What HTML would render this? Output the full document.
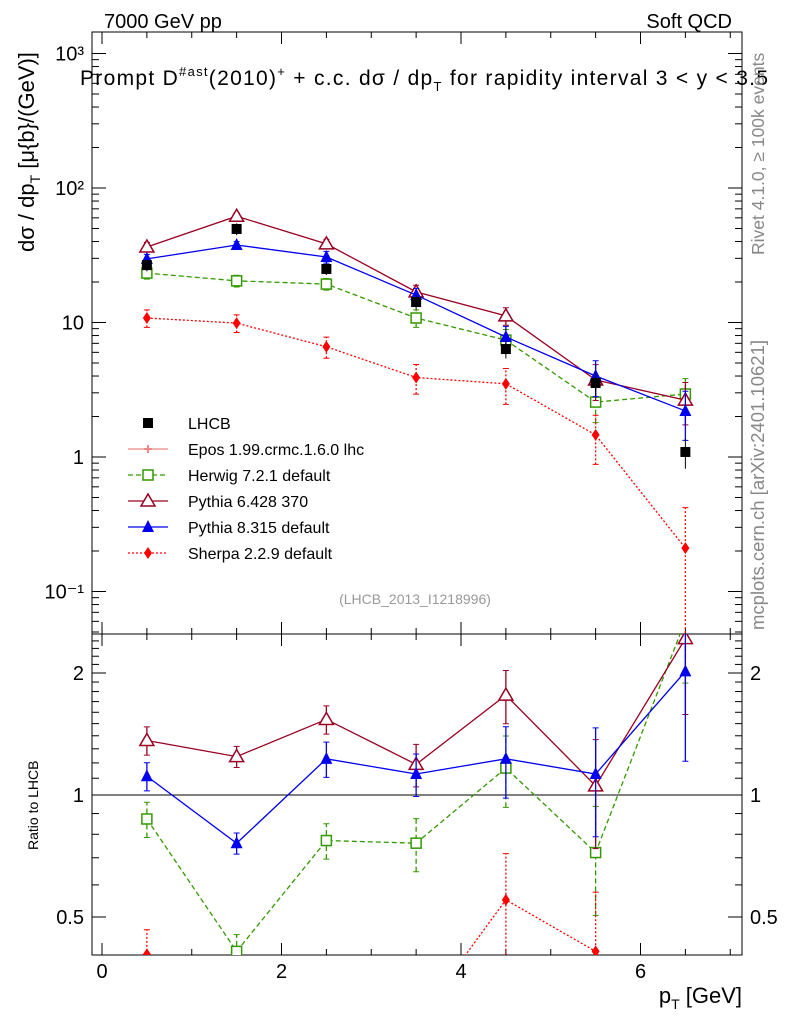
<!DOCTYPE html>
<html><head><meta charset="utf-8">
<style>
html,body{margin:0;padding:0;background:#fff;overflow:hidden;width:786px;height:1024px;}
svg{display:block;font-family:"Liberation Sans",sans-serif;}
</style></head>
<body>
<svg id="c" width="786" height="1024" viewBox="0 0 786 1024" xmlns="http://www.w3.org/2000/svg">
<text x="104" y="28" font-size="20">7000 GeV pp</text>
<text x="732" y="28" font-size="20" text-anchor="end">Soft QCD</text>
<text x="80" y="85" font-size="21" textLength="688" lengthAdjust="spacing">Prompt D<tspan font-size="13" dy="-9">#ast</tspan><tspan dy="9">(2010)</tspan><tspan font-size="13" dy="-9">+</tspan><tspan dy="9"> + c.c.  dσ / dp</tspan><tspan font-size="13" dy="6">T</tspan><tspan dy="-6"> for rapidity interval 3 &lt; y &lt; 3.5</tspan></text>
<text transform="translate(34,252) rotate(-90)" font-size="22">dσ / dp<tspan font-size="14" dy="6">T</tspan><tspan dy="-6"> [μ{b}/(GeV)]</tspan></text>
<text transform="translate(38,850) rotate(-90)" font-size="14">Ratio to LHCB</text>
<text transform="translate(764,255) rotate(-90)" font-size="17.5" fill="#888">Rivet 4.1.0, ≥ 100k events</text>
<text transform="translate(764,630) rotate(-90)" font-size="18.5" fill="#888">mcplots.cern.ch [arXiv:2401.10621]</text>
<text x="415" y="604" font-size="14" fill="#999" text-anchor="middle">(LHCB_2013_I1218996)</text>
<text x="742" y="1003" font-size="22" text-anchor="end">p<tspan font-size="14" dy="6">T</tspan><tspan dy="-6"> [GeV]</tspan></text>
<g id="g"></g>
</svg>
<script>
const xs=[0.5,1.5,2.5,3.5,4.5,5.5,6.5];
const lhcb=[26.7,49.6,25,14.2,6.35,3.55,1.09];
const lhcbErr=[0.1,0.1,0.1,0.12,0.15,0.2,0.25];
const herwig=[23.3,20.4,19.3,10.8,7.4,2.56,2.94];
const herwigErr=[0.1,0.1,0.1,0.15,0.2,0.3,0.3];
const pythia6=[36.4,61.7,38.4,16.9,11.2,3.74,2.65];
const pythia6Err=[0.08,0.06,0.08,0.12,0.15,0.3,0.35];
const pythia8=[29.7,37.7,30.7,16,7.8,4.0,2.2];
const pythia8Err=[0.08,0.06,0.1,0.12,0.2,0.3,0.4];
const sherpa=[10.8,9.9,6.6,3.9,3.5,1.46,0.21];
const sherpaErr=[0.15,0.15,0.18,0.25,0.3,0.4,1.0];
const xTicks=[0,2,4,6];
const yTicks=[0.1,1,10,100,1000];
const yTickLabels=["10⁻¹","1","10","10²","10³"];
const rTicks=[0.5,1,2];

const NS="http://www.w3.org/2000/svg";
const g=document.getElementById('g');
const L=92,R=742,T=32,M=634,B=955;
const X=v=>102+v*89.75;
const Y=v=>457-Math.log10(v)*134.5;
const RY=v=>795-Math.log2(v)*122;
function el(t,a,p){const e=document.createElementNS(NS,t);for(const k in a)e.setAttribute(k,a[k]);(p||g).appendChild(e);return e;}
const defs=el('defs',{});
const c1=el('clipPath',{id:'cm'},defs);el('rect',{x:L,y:T,width:R-L,height:M-T},c1);
const c2=el('clipPath',{id:'cr'},defs);el('rect',{x:L,y:M,width:R-L,height:B-M},c2);
let f=el('rect',{x:L,y:T,width:R-L,height:M-T,fill:'none',stroke:'#000','stroke-width':1});


f=el('rect',{x:L,y:M,width:R-L,height:B-M,fill:'none',stroke:'#000','stroke-width':1});


for(let v=0;v<=7;v+=0.5){const maj=v%2===0,len=maj?12:6;
 [[T,1],[M,-1],[M,1],[B,-1]].forEach(([y,d])=>el('line',{x1:X(v),x2:X(v),y1:y,y2:y+d*len,stroke:'#000'}));}
xTicks.forEach(v=>{const t=el('text',{x:X(v),y:978,'font-size':20,'text-anchor':'middle'});t.textContent=v;
 
 });
for(let d=-2;d<=3;d++)for(let m=1;m<10;m++){const v=m*Math.pow(10,d);const y=Y(v);if(y<T||y>M)continue;const len=m===1?14:7;
 el('line',{x1:L,x2:L+len,y1:y,y2:y,stroke:'#000'});el('line',{x1:R,x2:R-len,y1:y,y2:y,stroke:'#000'});}
yTicks.forEach((v,i)=>{const t=el('text',{x:84,y:Y(v)+7,'font-size':20,'text-anchor':'end'});t.textContent=yTickLabels[i];
 
 });
for(let v=0.4;v<=2.5;v+=0.1){const y=RY(v);if(y<M||y>B)continue;const maj=rTicks.some(r=>Math.abs(r-v)<1e-6);const len=maj?14:7;
 el('line',{x1:L,x2:L+len,y1:y,y2:y,stroke:'#000'});el('line',{x1:R,x2:R-len,y1:y,y2:y,stroke:'#000'});}
rTicks.forEach(v=>{[[84,'end'],[750,'start']].forEach(([x,a])=>{const t=el('text',{x:x,y:RY(v)+7,'font-size':20,'text-anchor':a});t.textContent=v;
 
 });});
el('line',{x1:L,x2:R,y1:RY(1),y2:RY(1),stroke:'#000'});
function marker(type,x,y,col,p){
 if(type==='sq')return el('rect',{x:x-5,y:y-5,width:10,height:10,fill:col},p);
 if(type==='osq')return el('rect',{x:x-5,y:y-5,width:10,height:10,fill:'#fff',stroke:col,'stroke-width':1.5},p);
 if(type==='otri')return el('polygon',{points:`${x},${y-7} ${x-7},${y+5} ${x+7},${y+5}`,fill:'#fff',stroke:col,'stroke-width':1.5},p);
 if(type==='tri')return el('polygon',{points:`${x},${y-7} ${x-6},${y+5} ${x+6},${y+5}`,fill:col},p);
 if(type==='dia')return el('polygon',{points:`${x},${y-6} ${x-4},${y} ${x},${y+6} ${x+4},${y}`,fill:col},p);
 if(type==='cross')return el('path',{d:`M${x-4} ${y}H${x+4}M${x} ${y-4}V${y+4}`,stroke:col,'stroke-width':2},p);
}
const series=[
 {name:'herwig',v:herwig,e:herwigErr,col:'#339900',dash:'5,3',m:'osq'},
 {name:'pythia6',v:pythia6,e:pythia6Err,col:'#990022',dash:'',m:'otri'},
 {name:'pythia8',v:pythia8,e:pythia8Err,col:'#0000ee',dash:'',m:'tri'},
 {name:'sherpa',v:sherpa,e:sherpaErr,col:'#ff0000',dash:'2,2',m:'dia'}];
series.forEach(s=>{
 const gm=el('g',{'clip-path':'url(#cm)'});
 
 
 el('polyline',{points:xs.map((x,i)=>X(x)+','+Y(s.v[i])).join(' '),fill:'none',stroke:s.col,'stroke-width':1.3,'stroke-dasharray':s.dash},gm);
 xs.forEach((x,i)=>{const lo=Y(s.v[i]*(1-s.e[i]*0.99)),hi=Y(s.v[i]*(1+s.e[i]));
  el('line',{x1:X(x),x2:X(x),y1:lo,y2:hi,stroke:s.col,'stroke-width':1.3,'stroke-dasharray':s.dash},gm);
  el('path',{d:`M${X(x)-3} ${lo}H${X(x)+3}M${X(x)-3} ${hi}H${X(x)+3}`,stroke:s.col},gm);
  const mk=marker(s.m,X(x),Y(s.v[i]),s.col,gm);
  
  });
 const gr=el('g',{'clip-path':'url(#cr)'});
 
 
 const r=s.v.map((v,i)=>v/lhcb[i]);
 el('polyline',{points:xs.map((x,i)=>X(x)+','+RY(r[i])).join(' '),fill:'none',stroke:s.col,'stroke-width':1.3,'stroke-dasharray':s.dash},gr);
 xs.forEach((x,i)=>{const lo=RY(Math.max(r[i]*(1-s.e[i]),0.01)),hi=RY(r[i]*(1+s.e[i]));
  el('line',{x1:X(x),x2:X(x),y1:lo,y2:hi,stroke:s.col,'stroke-width':1.3,'stroke-dasharray':s.dash},gr);
  el('path',{d:`M${X(x)-3} ${lo}H${X(x)+3}M${X(x)-3} ${hi}H${X(x)+3}`,stroke:s.col},gr);
  const mk=marker(s.m,X(x),RY(r[i]),s.col,gr);
  
  });
});
xs.forEach((x,i)=>{
 el('line',{x1:X(x),x2:X(x),y1:Y(lhcb[i]*(1-lhcbErr[i])),y2:Y(lhcb[i]*(1+lhcbErr[i])),stroke:'#000'});
 const mk=marker('sq',X(x),Y(lhcb[i]),'#000');
 
 });
const leg=[['LHCB','#000','','sq'],['Epos 1.99.crmc.1.6.0 lhc','#ee8888','','cross'],['Herwig 7.2.1 default','#339900','5,3','osq'],['Pythia 6.428 370','#990022','','otri'],['Pythia 8.315 default','#0000ee','','tri'],['Sherpa 2.2.9 default','#ff0000','2,2','dia']];
leg.forEach((l,i)=>{const y=423+i*26;
 const lg=el('g',{});
 
 
 if(i>0)el('line',{x1:128,x2:168,y1:y,y2:y,stroke:l[1],'stroke-width':1.3,'stroke-dasharray':l[2]},lg);
 marker(l[3],148,y,l[1],lg);
 const t=el('text',{x:188,y:y+6,'font-size':16},lg);t.textContent=l[0];});
</script>
</body></html>
